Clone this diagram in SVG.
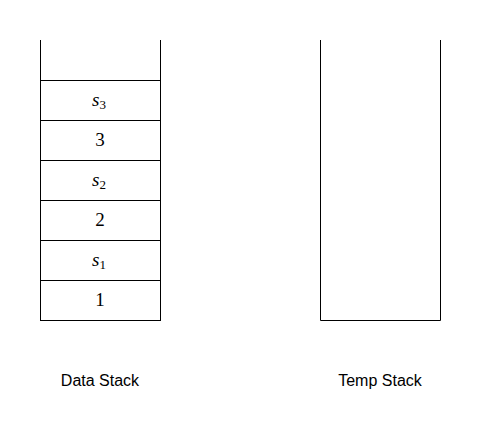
<svg xmlns="http://www.w3.org/2000/svg" width="482" height="441" viewBox="0 0 482 441">
<style>
.ln{fill:none;stroke:#000;stroke-width:1}
.cell{fill:#fff;stroke:#000;stroke-width:1}
.m{font-family:"Liberation Serif","DejaVu Serif",serif;font-size:19px;fill:#000;text-anchor:middle}
.i{font-style:italic}
.sub{font-size:13px;font-style:normal}
.lbl{font-family:"Liberation Sans",Arial,sans-serif;font-size:16px;fill:#000;text-anchor:middle}
</style>
<rect width="482" height="441" fill="#fff"/>
<g id="data-stack">
<path class="ln" d="M40.5 40 V320.5 H160.5 V40"/>
</g>
<g id="cell-s3"><rect class="cell" x="40.5" y="80.5" width="120" height="40"/><text class="m" x="99" y="106"><tspan class="i">s</tspan><tspan class="sub" dy="3">3</tspan></text></g>
<g id="cell-3"><rect class="cell" x="40.5" y="120.5" width="120" height="40"/><text class="m" x="100" y="146">3</text></g>
<g id="cell-s2"><rect class="cell" x="40.5" y="160.5" width="120" height="40"/><text class="m" x="99" y="186"><tspan class="i">s</tspan><tspan class="sub" dy="3">2</tspan></text></g>
<g id="cell-2"><rect class="cell" x="40.5" y="200.5" width="120" height="40"/><text class="m" x="100" y="226">2</text></g>
<g id="cell-s1"><rect class="cell" x="40.5" y="240.5" width="120" height="40"/><text class="m" x="99" y="266"><tspan class="i">s</tspan><tspan class="sub" dy="3">1</tspan></text></g>
<g id="cell-1"><rect class="cell" x="40.5" y="280.5" width="120" height="40"/><text class="m" x="100" y="306">1</text></g>
<g id="temp-stack">
<path class="ln" d="M320.5 40 V320.5 H440.5 V40"/>
</g>
<g id="label-data"><text class="lbl" x="100" y="386">Data Stack</text></g>
<g id="label-temp"><text class="lbl" x="380" y="386">Temp Stack</text></g>
<g id="connectors"></g>
</svg>
